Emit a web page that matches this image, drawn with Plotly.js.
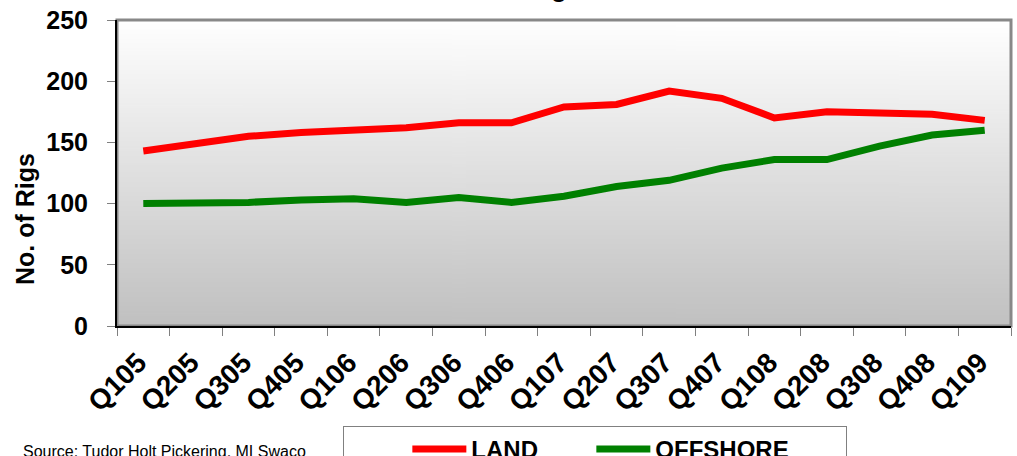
<!DOCTYPE html>
<html>
<head>
<meta charset="utf-8">
<script src="https://cdn.plot.ly/plotly-3.0.1.min.js"></script>
<style>html,body{margin:0;padding:0;background:#fff;}#chart{width:1017px;height:456px;}</style>
</head>
<body>
<div id="chart"></div>
<script>
const quarters = ["Q105","Q205","Q305","Q405","Q106","Q206","Q306","Q406","Q107","Q207","Q307","Q407","Q108","Q208","Q308","Q408","Q109"];
const land = [143,149,155,158,160,162,166,166,179,181,192,186,170,175,174,173,168];
const offshore = [100,100,101,103,104,101,105,101,106,114,119,129,136,136,147,156,160];
const yTicks = [0,50,100,150,200,250];
const chartTitle = "Rigs";
const yTitle = "No. of Rigs";
const sourceText = "Source: Tudor Holt Pickering, MI Swaco";

// vertical gradient for plot background
const cv = document.createElement('canvas');
cv.width = 4; cv.height = 256;
const cx = cv.getContext('2d');
const g = cx.createLinearGradient(0,0,0,256);
g.addColorStop(0,'#ffffff');
g.addColorStop(1,'#c0c0c0');
cx.fillStyle = g; cx.fillRect(0,0,4,256);
const gradURL = cv.toDataURL('image/png');

const FONT = '"Liberation Sans", Arial, sans-serif';

// plot area in pixels: x 117..1011, y 20..326
const PL = 117, PW = 894, PT = 20, PH = 306;
const px = v => (v - PL) / PW;
const py = v => (PT + PH - v) / PH;

const traces = [
  {x: quarters, y: land, type: 'scatter', mode: 'lines', name: 'LAND',
   line: {color: '#ff0000', width: 7}, legendwidth: 115},
  {x: quarters, y: offshore, type: 'scatter', mode: 'lines', name: 'OFFSHORE',
   line: {color: '#008000', width: 7}, legendwidth: 185}
];

const layout = {
  width: 1017, height: 456,
  margin: {l: PL, r: 1017 - PL - PW, t: PT, b: 456 - PT - PH},
  paper_bgcolor: '#ffffff',
  plot_bgcolor: 'rgba(0,0,0,0)',
  font: {family: FONT, color: '#000', size: 25, weight: 'bold'},
  showlegend: true,
  legend: {
    orientation: 'h', xref: 'container', yref: 'container',
    x: 343/1017, xanchor: 'left', y: 30/456, yanchor: 'top',
    bordercolor: '#808080', borderwidth: 1, bgcolor: '#ffffff',
    font: {family: FONT, size: 24, weight: 'bold', color: '#000'},
    itemwidth: 54,
    title: {text: '\u00a0\u00a0\u00a0\u00a0\u00a0\u00a0\u00a0\u00a0', side: 'left',
            font: {family: FONT, size: 24, weight: 'bold', color: '#000'}}
  },
  xaxis: {
    type: 'category', range: [-0.5, quarters.length - 0.5],
    tickson: 'boundaries', ticks: 'outside', ticklen: 8,
    tickcolor: '#808080', tickwidth: 1, tickangle: -45,
    showline: true, linecolor: '#000', linewidth: 2, showgrid: false,
    tickfont: {family: FONT, size: 28, weight: 'bold', color: '#000'},
    ticklabelstandoff: 7, ticklabelshift: -5, fixedrange: true
  },
  yaxis: {
    range: [0, 250], tickvals: yTicks, ticks: 'outside', ticklen: 8,
    tickcolor: '#808080', tickwidth: 1,
    showline: true, linecolor: '#000', linewidth: 2, showgrid: false, zeroline: false,
    tickfont: {family: FONT, size: 25, weight: 'bold', color: '#000'},
    ticklabelstandoff: 14, fixedrange: true
  },
  images: [{source: gradURL, xref: 'paper', yref: 'paper', x: 0, y: 1, sizex: 1, sizey: 1,
            xanchor: 'left', yanchor: 'top', sizing: 'stretch', layer: 'below'}],
  shapes: [{type: 'rect', xref: 'paper', yref: 'paper', x0: 0, x1: 1, y0: 0, y1: 1,
            line: {color: '#888888', width: 3}, layer: 'below'}],
  annotations: [
    {text: chartTitle, xref: 'paper', yref: 'paper', x: px(553), y: py(5),
     xanchor: 'center', yanchor: 'bottom', showarrow: false,
     font: {family: FONT, size: 26, weight: 'bold', color: '#000'}},
    {text: yTitle, xref: 'paper', yref: 'paper', x: px(25), y: py(219),
     xanchor: 'center', yanchor: 'middle', textangle: -90, showarrow: false,
     font: {family: FONT, size: 25, weight: 'bold', color: '#000'}},
    {text: sourceText, xref: 'paper', yref: 'paper', x: px(21), y: py(441),
     xanchor: 'left', yanchor: 'top', showarrow: false,
     font: {family: FONT, size: 16, weight: 'normal', color: '#000'}}
  ]
};

Plotly.newPlot('chart', traces, layout, {displayModeBar: false, staticPlot: true});
</script>
</body>
</html>
